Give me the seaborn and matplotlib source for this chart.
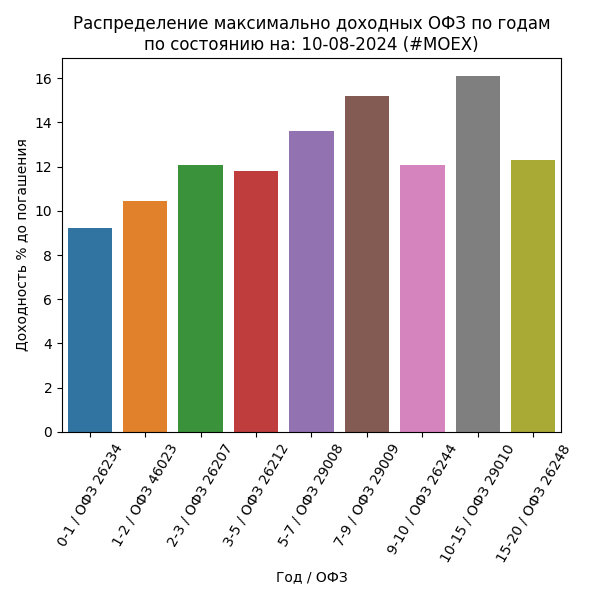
import matplotlib
matplotlib.use("Agg")
import matplotlib.pyplot as plt
import seaborn as sns
import pandas as pd

categories = ["0-1 / ОФЗ 26234", "1-2 / ОФЗ 46023", "2-3 / ОФЗ 26207", "3-5 / ОФЗ 26212",
              "5-7 / ОФЗ 29008", "7-9 / ОФЗ 29009", "9-10 / ОФЗ 26244",
              "10-15 / ОФЗ 29010", "15-20 / ОФЗ 26248"]
yields = [9.2, 10.45, 12.08, 11.82, 13.62, 15.2, 12.08, 16.1, 12.3]

df = pd.DataFrame({"Год / ОФЗ": categories, "Доходность % до погашения": yields})

plt.figure(figsize=(5.9, 5.99), dpi=100)
ax = sns.barplot(data=df, x="Год / ОФЗ", y="Доходность % до погашения",
                 hue="Год / ОФЗ", palette="tab10", legend=False)
plt.xticks(rotation=60)
plt.title("Распределение максимально доходных ОФЗ по годам\nпо состоянию на: 10-08-2024 (#MOEX)")
plt.tight_layout()
plt.savefig("out.png", dpi=100)
